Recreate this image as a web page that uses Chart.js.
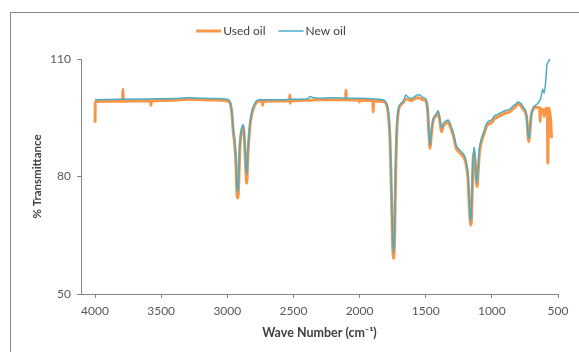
<!DOCTYPE html>
<html>
<head>
<meta charset="utf-8">
<script src="https://cdn.jsdelivr.net/npm/chart.js@4.4.1/dist/chart.umd.min.js"></script>
<style>
  html, body { margin: 0; padding: 0; background: #fff; }
  #wrap { width: 579px; height: 352px; position: relative; }
</style>
</head>
<body>
<div id="wrap"><canvas id="ftir"></canvas></div>
<script>
// wave numbers (cm-1) and % transmittance
const usedWave = [4000, 3998, 3900, 3792, 3789, 3786, 3700, 3580, 3577, 3574, 3400, 3300, 3100, 3000, 2980, 2965, 2955, 2945, 2935, 2927, 2921, 2915, 2905, 2890, 2879, 2870, 2860, 2853, 2845, 2830, 2815, 2790, 2760, 2735, 2732, 2729, 2600, 2530, 2527, 2524, 2521, 2400, 2300, 2200, 2106, 2103, 2100, 2005, 2002, 1999, 1900, 1897, 1894, 1830, 1800, 1785, 1770, 1760, 1750, 1742, 1735, 1727, 1717, 1705, 1690, 1670, 1650, 1630, 1610, 1590, 1560, 1545, 1520, 1495, 1485, 1475, 1467, 1458, 1445, 1420, 1406, 1395, 1380, 1368, 1345, 1330, 1310, 1290, 1270, 1250, 1230, 1210, 1195, 1180, 1170, 1160, 1153, 1145, 1137, 1129, 1120, 1112, 1104, 1094, 1080, 1060, 1040, 1020, 1000, 980, 960, 940, 920, 900, 880, 860, 840, 820, 802, 780, 760, 745, 735, 726, 720, 712, 703, 690, 676, 660, 645, 638, 635, 631, 620, 613, 605, 597, 588, 580, 577, 572, 565, 557, 549];
const usedT = [93.7, 99.1, 99.2, 99.2, 102.3, 99.2, 99.3, 99.3, 98.2, 99.3, 99.5, 99.7, 99.5, 99.3, 98.8, 96.0, 91.5, 88.5, 83.5, 75.5, 74.5, 77.0, 87.5, 92.0, 92.6, 89.0, 81.5, 78.3, 85.0, 92.5, 96.0, 98.4, 99.2, 99.2, 98.2, 99.2, 99.3, 99.3, 100.8, 98.7, 99.3, 99.5, 99.6, 99.6, 99.6, 102.1, 99.6, 99.5, 99.0, 99.5, 99.4, 96.5, 99.3, 99.2, 98.6, 96.5, 89.5, 77.0, 62.5, 59.1, 64.5, 81.0, 92.5, 97.0, 98.2, 98.9, 99.8, 99.7, 99.4, 99.7, 100.1, 100.0, 99.6, 99.0, 96.5, 90.5, 87.2, 90.5, 94.0, 95.6, 96.3, 94.5, 91.4, 92.8, 93.6, 93.8, 92.3, 90.3, 87.3, 86.3, 85.6, 84.8, 83.2, 79.2, 72.0, 67.6, 70.0, 81.0, 86.0, 84.8, 79.5, 77.4, 81.0, 86.0, 88.7, 90.8, 92.8, 93.5, 93.8, 94.8, 95.1, 95.5, 95.8, 96.1, 96.3, 96.6, 97.3, 97.8, 98.6, 98.0, 97.0, 96.2, 94.5, 90.0, 88.9, 91.5, 95.5, 97.0, 97.8, 97.6, 97.6, 97.4, 94.0, 97.2, 97.2, 97.0, 95.3, 97.0, 97.4, 96.5, 83.4, 97.4, 97.0, 95.0, 89.8];

const newWave = [4000, 3800, 3600, 3400, 3300, 3200, 3100, 3000, 2980, 2965, 2955, 2945, 2935, 2926, 2919, 2905, 2890, 2879, 2870, 2860, 2853, 2845, 2830, 2815, 2790, 2760, 2700, 2600, 2500, 2400, 2370, 2350, 2300, 2200, 2100, 2000, 1900, 1830, 1800, 1785, 1770, 1760, 1750, 1743, 1736, 1728, 1718, 1705, 1690, 1670, 1650, 1635, 1610, 1590, 1560, 1545, 1520, 1495, 1485, 1475, 1467, 1458, 1445, 1420, 1406, 1395, 1380, 1368, 1345, 1330, 1310, 1290, 1270, 1250, 1230, 1210, 1195, 1180, 1170, 1161, 1154, 1145, 1136, 1128, 1120, 1112, 1104, 1094, 1080, 1060, 1040, 1020, 1000, 980, 960, 940, 920, 900, 880, 860, 840, 820, 802, 780, 760, 745, 735, 726, 720, 712, 703, 690, 670, 651, 630, 615, 605, 595, 583, 572, 562];
const newT = [99.6, 99.7, 99.8, 99.9, 100.1, 100.0, 99.9, 99.7, 99.2, 96.5, 92.0, 89.5, 84.5, 77.0, 76.1, 88.0, 92.5, 93.3, 90.0, 83.0, 80.4, 86.0, 93.0, 96.5, 98.8, 99.6, 99.6, 99.6, 99.7, 99.8, 100.4, 100.1, 100.0, 100.1, 100.0, 100.0, 99.8, 99.6, 99.0, 97.0, 90.0, 78.0, 64.0, 60.4, 66.0, 82.0, 93.0, 97.5, 98.5, 99.2, 100.8, 100.3, 99.9, 100.2, 100.9, 100.8, 100.2, 99.5, 97.0, 91.0, 88.0, 91.0, 94.5, 96.0, 96.8, 95.0, 92.3, 93.5, 94.2, 94.4, 93.0, 91.0, 88.0, 87.0, 86.3, 85.5, 84.0, 80.0, 73.0, 68.5, 71.0, 82.0, 87.5, 86.0, 80.5, 78.4, 82.0, 87.0, 89.5, 91.5, 93.5, 94.2, 94.5, 95.5, 95.8, 96.2, 96.5, 96.8, 97.0, 97.3, 98.0, 98.5, 99.0, 98.6, 97.6, 96.8, 95.0, 90.5, 89.8, 92.0, 95.5, 97.2, 98.2, 98.7, 100.0, 102.3, 101.3, 103.5, 108.5, 109.3, 110.0];

const xTicks = [4000, 3500, 3000, 2500, 2000, 1500, 1000, 500];
const yTicks = [50, 80, 110];

function points(wave, t) {
    var out = [];
    for (var i = 0; i < wave.length; i++) {
        out.push({x: wave[i], y: t[i]});
    }
    return out;
}

const axisGrey = "#868686";
const tickGrey = "#595959";
const titleGrey = "#404040";

// outer chart border + legend drawn like the spreadsheet one
const frame = {
    id: "frame",
    beforeDraw(chart) {
        const c = chart.ctx;
        c.save();
        c.strokeStyle = axisGrey;
        c.lineWidth = 1;
        c.strokeRect(10.5, 12.5, 700, 500);
        c.restore();
    },
    afterDraw(chart) {
        const c = chart.ctx;
        const sets = chart.data.datasets;
        const lineLen = 25, gap = 13, y = 31;
        c.save();
        c.font = "12px Lato";
        c.textBaseline = "middle";
        var total = 0;
        sets.forEach(function(d, i) {
            total += lineLen + 2 + c.measureText(d.label).width + (i < sets.length - 1 ? gap : 0);
        });
        var x = 271 - total / 2;
        sets.forEach(function(d) {
            c.strokeStyle = d.borderColor;
            c.lineWidth = d.borderWidth;
            c.beginPath();
            c.moveTo(x, y);
            c.lineTo(x + lineLen, y);
            c.stroke();
            x += lineLen + 2;
            c.fillStyle = titleGrey;
            c.fillText(d.label, x, y);
            x += c.measureText(d.label).width + gap;
        });
        c.restore();
    }
};

function plain(v) { return String(v); }

new Chart("ftir", {
    type: "line",
    data: {
        datasets: [{
            label: "Used oil",
            data: points(usedWave, usedT),
            borderColor: "#F79646",
            borderWidth: 3,
            pointRadius: 0,
            cubicInterpolationMode: "monotone",
            order: 2
        }, {
            label: "New oil",
            data: points(newWave, newT),
            borderColor: "#4BACC6",
            borderWidth: 1.5,
            pointRadius: 0,
            cubicInterpolationMode: "monotone",
            order: 1
        }]
    },
    options: {
        responsive: true,
        maintainAspectRatio: false,
        animation: false,
        layout: { padding: { top: 59, right: 21, left: 0, bottom: 0 } },
        plugins: {
            legend: { display: false },
            tooltip: { enabled: false }
        },
        scales: {
            x: {
                type: "linear",
                reverse: true,
                min: 500,
                max: 4106,
                afterFit: function(s) { s.height = 58; },
                afterBuildTicks: function(s) { s.ticks = xTicks.map(function(v) { return {value: v}; }); },
                ticks: {
                    stepSize: 500,
                    includeBounds: false,
                    autoSkip: false,
                    maxRotation: 0,
                    padding: 6,
                    color: tickGrey,
                    font: { family: "Lato", size: 12 },
                    callback: plain
                },
                grid: { drawOnChartArea: false, drawTicks: true, tickLength: 4, color: axisGrey },
                border: { color: axisGrey },
                title: {
                    display: true,
                    text: "Wave Number (cm\u207B\u00B9)",
                    color: titleGrey,
                    font: { family: "Lato", size: 12.5, weight: "bold" },
                    padding: { top: 0, bottom: 12 }
                }
            },
            y: {
                min: 50,
                max: 110,
                afterFit: function(s) { s.width = 81; },
                afterBuildTicks: function(s) { s.ticks = yTicks.map(function(v) { return {value: v}; }); },
                ticks: {
                    stepSize: 30,
                    padding: 6,
                    color: tickGrey,
                    font: { family: "Lato", size: 12 },
                    callback: plain
                },
                grid: { drawOnChartArea: false, drawTicks: true, tickLength: 4, color: axisGrey },
                border: { color: axisGrey },
                title: {
                    display: true,
                    text: "% Transmittance",
                    color: titleGrey,
                    font: { family: "Lato", size: 11.5, weight: "bold" },
                    padding: { top: 30, bottom: 0 }
                }
            }
        }
    },
    plugins: [frame]
});
</script>
</body>
</html>
